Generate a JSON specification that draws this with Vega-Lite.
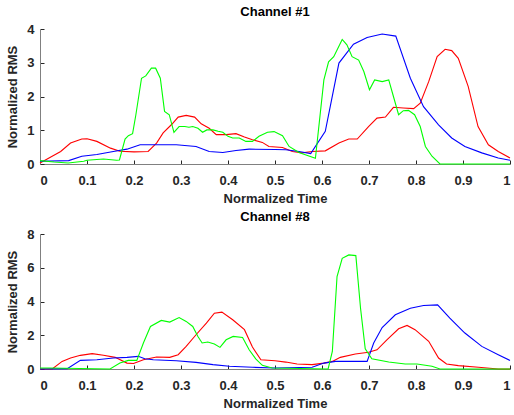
{
  "$schema": "https://vega.github.io/schema/vega-lite/v6.json",
  "background": "white",
  "padding": {"left": 6, "top": 6, "right": 0, "bottom": 0},
  "spacing": 70,
  "bounds": "flush",
  "config": {
    "view": {"stroke": null},
    "font": "Liberation Sans",
    "title": {"fontSize": 13, "fontWeight": "bold", "color": "#000000", "offset": 0},
    "axis": {
      "grid": false,
      "domainColor": "#808080",
      "tickColor": "#262626",
      "tickSize": -4,
      "labelFont": "Liberation Sans",
      "labelFontSize": 13,
      "labelFontWeight": "bold",
      "labelColor": "#262626",
      "titleFont": "Liberation Sans",
      "titleFontSize": 13,
      "titleFontWeight": "bold",
      "titleColor": "#262626"
    }
  },
  "datasets": {
    "d": [
      {"c":1,"s":"r","t":0,"v":0.03},{"c":1,"s":"r","t":0.044,"v":0.37},{"c":1,"s":"r","t":0.065,"v":0.62},{"c":1,"s":"r","t":0.089,"v":0.74},{"c":1,"s":"r","t":0.1,"v":0.75},{"c":1,"s":"r","t":0.121,"v":0.67},{"c":1,"s":"r","t":0.15,"v":0.47},{"c":1,"s":"r","t":0.17,"v":0.38},{"c":1,"s":"r","t":0.2,"v":0.36},{"c":1,"s":"r","t":0.23,"v":0.37},{"c":1,"s":"r","t":0.248,"v":0.62},{"c":1,"s":"r","t":0.262,"v":0.92},{"c":1,"s":"r","t":0.28,"v":1.17},{"c":1,"s":"r","t":0.294,"v":1.39},{"c":1,"s":"r","t":0.311,"v":1.44},{"c":1,"s":"r","t":0.329,"v":1.39},{"c":1,"s":"r","t":0.343,"v":1.19},{"c":1,"s":"r","t":0.36,"v":1.06},{"c":1,"s":"r","t":0.375,"v":0.87},{"c":1,"s":"r","t":0.396,"v":0.87},{"c":1,"s":"r","t":0.417,"v":0.9},{"c":1,"s":"r","t":0.435,"v":0.8},{"c":1,"s":"r","t":0.452,"v":0.72},{"c":1,"s":"r","t":0.473,"v":0.64},{"c":1,"s":"r","t":0.487,"v":0.52},{"c":1,"s":"r","t":0.516,"v":0.49},{"c":1,"s":"r","t":0.537,"v":0.37},{"c":1,"s":"r","t":0.558,"v":0.33},{"c":1,"s":"r","t":0.579,"v":0.37},{"c":1,"s":"r","t":0.607,"v":0.39},{"c":1,"s":"r","t":0.636,"v":0.62},{"c":1,"s":"r","t":0.657,"v":0.74},{"c":1,"s":"r","t":0.675,"v":0.74},{"c":1,"s":"r","t":0.699,"v":1.11},{"c":1,"s":"r","t":0.717,"v":1.36},{"c":1,"s":"r","t":0.735,"v":1.39},{"c":1,"s":"r","t":0.752,"v":1.68},{"c":1,"s":"r","t":0.773,"v":1.66},{"c":1,"s":"r","t":0.795,"v":1.64},{"c":1,"s":"r","t":0.809,"v":1.8},{"c":1,"s":"r","t":0.827,"v":2.44},{"c":1,"s":"r","t":0.845,"v":3.18},{"c":1,"s":"r","t":0.862,"v":3.4},{"c":1,"s":"r","t":0.876,"v":3.36},{"c":1,"s":"r","t":0.89,"v":3.13},{"c":1,"s":"r","t":0.911,"v":2.3},{"c":1,"s":"r","t":0.932,"v":1.11},{"c":1,"s":"r","t":0.954,"v":0.57},{"c":1,"s":"r","t":0.975,"v":0.37},{"c":1,"s":"r","t":1.0,"v":0.18},
      {"c":1,"s":"b","t":0,"v":0.08},{"c":1,"s":"b","t":0.061,"v":0.1},{"c":1,"s":"b","t":0.089,"v":0.23},{"c":1,"s":"b","t":0.121,"v":0.28},{"c":1,"s":"b","t":0.156,"v":0.37},{"c":1,"s":"b","t":0.185,"v":0.44},{"c":1,"s":"b","t":0.213,"v":0.57},{"c":1,"s":"b","t":0.248,"v":0.57},{"c":1,"s":"b","t":0.29,"v":0.57},{"c":1,"s":"b","t":0.332,"v":0.52},{"c":1,"s":"b","t":0.36,"v":0.37},{"c":1,"s":"b","t":0.389,"v":0.34},{"c":1,"s":"b","t":0.417,"v":0.4},{"c":1,"s":"b","t":0.445,"v":0.44},{"c":1,"s":"b","t":0.5,"v":0.43},{"c":1,"s":"b","t":0.523,"v":0.42},{"c":1,"s":"b","t":0.551,"v":0.37},{"c":1,"s":"b","t":0.576,"v":0.31},{"c":1,"s":"b","t":0.607,"v":0.97},{"c":1,"s":"b","t":0.636,"v":2.99},{"c":1,"s":"b","t":0.667,"v":3.55},{"c":1,"s":"b","t":0.696,"v":3.75},{"c":1,"s":"b","t":0.728,"v":3.85},{"c":1,"s":"b","t":0.757,"v":3.79},{"c":1,"s":"b","t":0.788,"v":2.54},{"c":1,"s":"b","t":0.816,"v":1.7},{"c":1,"s":"b","t":0.848,"v":1.16},{"c":1,"s":"b","t":0.876,"v":0.77},{"c":1,"s":"b","t":0.904,"v":0.52},{"c":1,"s":"b","t":0.94,"v":0.33},{"c":1,"s":"b","t":0.975,"v":0.18},{"c":1,"s":"b","t":1.0,"v":0.11},
      {"c":1,"s":"g","t":0,"v":0.1},{"c":1,"s":"g","t":0.03,"v":0.06},{"c":1,"s":"g","t":0.06,"v":0.03},{"c":1,"s":"g","t":0.093,"v":0.08},{"c":1,"s":"g","t":0.1,"v":0.11},{"c":1,"s":"g","t":0.135,"v":0.15},{"c":1,"s":"g","t":0.163,"v":0.11},{"c":1,"s":"g","t":0.169,"v":0.12},{"c":1,"s":"g","t":0.181,"v":0.74},{"c":1,"s":"g","t":0.188,"v":0.84},{"c":1,"s":"g","t":0.197,"v":0.9},{"c":1,"s":"g","t":0.204,"v":1.46},{"c":1,"s":"g","t":0.216,"v":2.54},{"c":1,"s":"g","t":0.225,"v":2.61},{"c":1,"s":"g","t":0.237,"v":2.84},{"c":1,"s":"g","t":0.246,"v":2.84},{"c":1,"s":"g","t":0.256,"v":2.54},{"c":1,"s":"g","t":0.265,"v":1.56},{"c":1,"s":"g","t":0.275,"v":1.46},{"c":1,"s":"g","t":0.285,"v":0.94},{"c":1,"s":"g","t":0.296,"v":1.11},{"c":1,"s":"g","t":0.308,"v":1.11},{"c":1,"s":"g","t":0.317,"v":1.09},{"c":1,"s":"g","t":0.325,"v":1.11},{"c":1,"s":"g","t":0.336,"v":1.06},{"c":1,"s":"g","t":0.346,"v":0.94},{"c":1,"s":"g","t":0.355,"v":1.01},{"c":1,"s":"g","t":0.368,"v":1.01},{"c":1,"s":"g","t":0.379,"v":0.97},{"c":1,"s":"g","t":0.389,"v":0.94},{"c":1,"s":"g","t":0.4,"v":0.82},{"c":1,"s":"g","t":0.41,"v":0.77},{"c":1,"s":"g","t":0.424,"v":0.77},{"c":1,"s":"g","t":0.438,"v":0.67},{"c":1,"s":"g","t":0.452,"v":0.67},{"c":1,"s":"g","t":0.466,"v":0.82},{"c":1,"s":"g","t":0.484,"v":0.94},{"c":1,"s":"g","t":0.498,"v":0.96},{"c":1,"s":"g","t":0.516,"v":0.84},{"c":1,"s":"g","t":0.53,"v":0.52},{"c":1,"s":"g","t":0.551,"v":0.34},{"c":1,"s":"g","t":0.569,"v":0.25},{"c":1,"s":"g","t":0.586,"v":0.17},{"c":1,"s":"g","t":0.604,"v":2.49},{"c":1,"s":"g","t":0.614,"v":3.03},{"c":1,"s":"g","t":0.625,"v":3.18},{"c":1,"s":"g","t":0.643,"v":3.69},{"c":1,"s":"g","t":0.653,"v":3.53},{"c":1,"s":"g","t":0.664,"v":3.18},{"c":1,"s":"g","t":0.678,"v":3.08},{"c":1,"s":"g","t":0.689,"v":2.74},{"c":1,"s":"g","t":0.701,"v":2.2},{"c":1,"s":"g","t":0.712,"v":2.49},{"c":1,"s":"g","t":0.728,"v":2.44},{"c":1,"s":"g","t":0.742,"v":2.49},{"c":1,"s":"g","t":0.752,"v":2.0},{"c":1,"s":"g","t":0.763,"v":1.46},{"c":1,"s":"g","t":0.773,"v":1.58},{"c":1,"s":"g","t":0.784,"v":1.59},{"c":1,"s":"g","t":0.797,"v":1.46},{"c":1,"s":"g","t":0.809,"v":1.11},{"c":1,"s":"g","t":0.82,"v":0.52},{"c":1,"s":"g","t":0.834,"v":0.23},{"c":1,"s":"g","t":0.851,"v":0},{"c":1,"s":"g","t":1.0,"v":0},
      {"c":8,"s":"r","t":0,"v":0},{"c":8,"s":"r","t":0.026,"v":0},{"c":8,"s":"r","t":0.047,"v":0.45},{"c":8,"s":"r","t":0.065,"v":0.65},{"c":8,"s":"r","t":0.086,"v":0.81},{"c":8,"s":"r","t":0.111,"v":0.91},{"c":8,"s":"r","t":0.135,"v":0.81},{"c":8,"s":"r","t":0.16,"v":0.69},{"c":8,"s":"r","t":0.185,"v":0.35},{"c":8,"s":"r","t":0.199,"v":0.33},{"c":8,"s":"r","t":0.22,"v":0.55},{"c":8,"s":"r","t":0.248,"v":0.71},{"c":8,"s":"r","t":0.276,"v":0.69},{"c":8,"s":"r","t":0.294,"v":0.85},{"c":8,"s":"r","t":0.311,"v":1.34},{"c":8,"s":"r","t":0.332,"v":2.03},{"c":8,"s":"r","t":0.354,"v":2.72},{"c":8,"s":"r","t":0.371,"v":3.31},{"c":8,"s":"r","t":0.387,"v":3.37},{"c":8,"s":"r","t":0.41,"v":2.92},{"c":8,"s":"r","t":0.435,"v":2.33},{"c":8,"s":"r","t":0.452,"v":1.3},{"c":8,"s":"r","t":0.47,"v":0.55},{"c":8,"s":"r","t":0.5,"v":0.49},{"c":8,"s":"r","t":0.523,"v":0.41},{"c":8,"s":"r","t":0.547,"v":0.3},{"c":8,"s":"r","t":0.579,"v":0.26},{"c":8,"s":"r","t":0.604,"v":0.35},{"c":8,"s":"r","t":0.622,"v":0.45},{"c":8,"s":"r","t":0.639,"v":0.69},{"c":8,"s":"r","t":0.671,"v":0.89},{"c":8,"s":"r","t":0.699,"v":0.99},{"c":8,"s":"r","t":0.717,"v":1.14},{"c":8,"s":"r","t":0.738,"v":1.73},{"c":8,"s":"r","t":0.763,"v":2.38},{"c":8,"s":"r","t":0.781,"v":2.58},{"c":8,"s":"r","t":0.798,"v":2.33},{"c":8,"s":"r","t":0.827,"v":1.64},{"c":8,"s":"r","t":0.848,"v":0.65},{"c":8,"s":"r","t":0.865,"v":0.3},{"c":8,"s":"r","t":0.89,"v":0.2},{"c":8,"s":"r","t":0.933,"v":0.1},{"c":8,"s":"r","t":0.975,"v":0},{"c":8,"s":"r","t":1.0,"v":0},
      {"c":8,"s":"b","t":0,"v":0},{"c":8,"s":"b","t":0.058,"v":0.02},{"c":8,"s":"b","t":0.086,"v":0.51},{"c":8,"s":"b","t":0.121,"v":0.55},{"c":8,"s":"b","t":0.156,"v":0.65},{"c":8,"s":"b","t":0.185,"v":0.69},{"c":8,"s":"b","t":0.209,"v":0.75},{"c":8,"s":"b","t":0.223,"v":0.61},{"c":8,"s":"b","t":0.241,"v":0.55},{"c":8,"s":"b","t":0.29,"v":0.49},{"c":8,"s":"b","t":0.332,"v":0.39},{"c":8,"s":"b","t":0.368,"v":0.26},{"c":8,"s":"b","t":0.403,"v":0.16},{"c":8,"s":"b","t":0.452,"v":0.1},{"c":8,"s":"b","t":0.5,"v":0.06},{"c":8,"s":"b","t":0.579,"v":0.1},{"c":8,"s":"b","t":0.604,"v":0.35},{"c":8,"s":"b","t":0.629,"v":0.45},{"c":8,"s":"b","t":0.696,"v":0.45},{"c":8,"s":"b","t":0.71,"v":1.54},{"c":8,"s":"b","t":0.728,"v":2.46},{"c":8,"s":"b","t":0.756,"v":3.21},{"c":8,"s":"b","t":0.788,"v":3.6},{"c":8,"s":"b","t":0.816,"v":3.76},{"c":8,"s":"b","t":0.846,"v":3.8},{"c":8,"s":"b","t":0.872,"v":3.01},{"c":8,"s":"b","t":0.904,"v":2.13},{"c":8,"s":"b","t":0.94,"v":1.34},{"c":8,"s":"b","t":0.975,"v":0.85},{"c":8,"s":"b","t":1.0,"v":0.51},
      {"c":8,"s":"g","t":0,"v":0.06},{"c":8,"s":"g","t":0.02,"v":0.06},{"c":8,"s":"g","t":0.149,"v":0},{"c":8,"s":"g","t":0.17,"v":0.35},{"c":8,"s":"g","t":0.188,"v":0.51},{"c":8,"s":"g","t":0.206,"v":0.51},{"c":8,"s":"g","t":0.22,"v":1.54},{"c":8,"s":"g","t":0.235,"v":2.52},{"c":8,"s":"g","t":0.258,"v":2.88},{"c":8,"s":"g","t":0.276,"v":2.78},{"c":8,"s":"g","t":0.296,"v":3.05},{"c":8,"s":"g","t":0.311,"v":2.82},{"c":8,"s":"g","t":0.325,"v":2.52},{"c":8,"s":"g","t":0.336,"v":1.93},{"c":8,"s":"g","t":0.345,"v":1.54},{"c":8,"s":"g","t":0.357,"v":1.6},{"c":8,"s":"g","t":0.371,"v":1.48},{"c":8,"s":"g","t":0.383,"v":1.28},{"c":8,"s":"g","t":0.396,"v":1.73},{"c":8,"s":"g","t":0.411,"v":1.93},{"c":8,"s":"g","t":0.431,"v":1.87},{"c":8,"s":"g","t":0.445,"v":1.14},{"c":8,"s":"g","t":0.459,"v":0.6},{"c":8,"s":"g","t":0.473,"v":0.22},{"c":8,"s":"g","t":0.494,"v":0.06},{"c":8,"s":"g","t":0.613,"v":0},{"c":8,"s":"g","t":0.622,"v":1.04},{"c":8,"s":"g","t":0.632,"v":5.48},{"c":8,"s":"g","t":0.643,"v":6.56},{"c":8,"s":"g","t":0.657,"v":6.76},{"c":8,"s":"g","t":0.672,"v":6.72},{"c":8,"s":"g","t":0.682,"v":3.6},{"c":8,"s":"g","t":0.692,"v":1.2},{"c":8,"s":"g","t":0.706,"v":0.61},{"c":8,"s":"g","t":0.742,"v":0.41},{"c":8,"s":"g","t":0.777,"v":0.3},{"c":8,"s":"g","t":0.802,"v":0.3},{"c":8,"s":"g","t":0.834,"v":0.16},{"c":8,"s":"g","t":0.851,"v":0},{"c":8,"s":"g","t":1.0,"v":0}
    ]
  },
  "vconcat": [
    {
      "title": "Channel #1",
      "width": 470,
      "height": 135,
      "data": {"name": "d"},
      "transform": [{"filter": "datum.c == 1"}],
      "mark": {"type": "line", "strokeWidth": 1.1},
      "encoding": {
        "x": {"field": "t", "type": "quantitative", "scale": {"domain": [0, 1], "nice": false}, "axis": {"title": "Normalized Time", "values": [0, 0.1, 0.2, 0.3, 0.4, 0.5, 0.6, 0.7, 0.8, 0.9, 1], "format": "~g", "labelPadding": 14, "titlePadding": 5}},
        "y": {"field": "v", "type": "quantitative", "scale": {"domain": [0, 4], "nice": false}, "axis": {"title": "Normalized RMS", "values": [0, 1, 2, 3, 4], "labelPadding": 10, "titlePadding": 7}},
        "color": {"field": "s", "type": "nominal", "scale": {"domain": ["r", "g", "b"], "range": ["#ff0000", "#00ff00", "#0000ff"]}, "legend": null},
        "detail": {"field": "s"}
      }
    },
    {
      "title": "Channel #8",
      "width": 470,
      "height": 135,
      "data": {"name": "d"},
      "transform": [{"filter": "datum.c == 8"}],
      "mark": {"type": "line", "strokeWidth": 1.1},
      "encoding": {
        "x": {"field": "t", "type": "quantitative", "scale": {"domain": [0, 1], "nice": false}, "axis": {"title": "Normalized Time", "values": [0, 0.1, 0.2, 0.3, 0.4, 0.5, 0.6, 0.7, 0.8, 0.9, 1], "format": "~g", "labelPadding": 14, "titlePadding": 5}},
        "y": {"field": "v", "type": "quantitative", "scale": {"domain": [0, 8], "nice": false}, "axis": {"title": "Normalized RMS", "values": [0, 2, 4, 6, 8], "labelPadding": 10, "titlePadding": 7}},
        "color": {"field": "s", "type": "nominal", "scale": {"domain": ["r", "g", "b"], "range": ["#ff0000", "#00ff00", "#0000ff"]}, "legend": null},
        "detail": {"field": "s"}
      }
    }
  ]
}
